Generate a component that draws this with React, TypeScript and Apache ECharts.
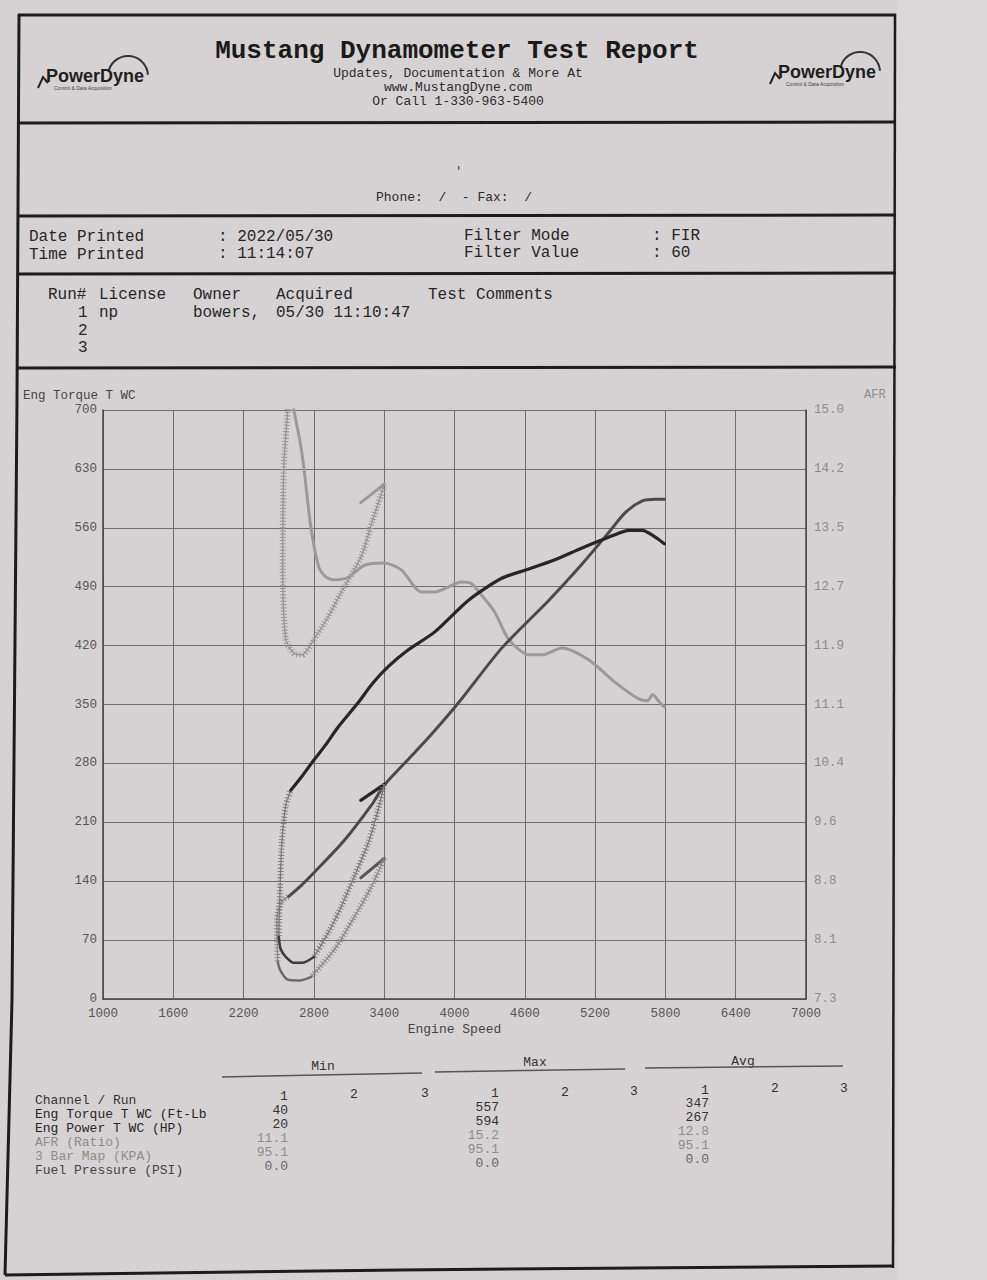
import React, { useEffect, useRef } from "react";
import * as echarts from "echarts";

// ---------- data ----------
const rpmTicks = [1000, 1600, 2200, 2800, 3400, 4000, 4600, 5200, 5800, 6400, 7000];
const torqueTicks = [0, 70, 140, 210, 280, 350, 420, 490, 560, 630, 700];
const afrTickLabels = ["7.3", "8.1", "8.8", "9.6", "10.4", "11.1", "11.9", "12.7", "13.5", "14.2", "15.0"];

// Engine torque (ft-lb) vs rpm
const torqueStart = [[3200, 236], [3400, 255]];
const torqueDecel = [[3400, 255], [3349, 225], [3263, 185], [3143, 145], [3031, 109], [2920, 78], [2800, 50]];
const torqueTurn = [[2800, 50], [2700, 43], [2629, 43], [2560, 50], [2515, 60], [2500, 75]];
const torqueRise = [[2500, 75], [2510, 126], [2526, 185], [2560, 230], [2603, 248]];
const torqueMain = [[2603, 248], [2700, 265], [2800, 284], [2900, 302], [3006, 323], [3177, 352], [3300, 375], [3434, 395], [3606, 415], [3829, 436], [4120, 474], [4403, 500], [4634, 511], [4857, 522], [5089, 536], [5320, 549], [5491, 557], [5603, 557], [5714, 549], [5791, 541]];

// Engine power (HP) vs rpm
const powerStart = [[3200, 144], [3400, 167]];
const powerDecel = [[3400, 167], [3289, 133], [3143, 97], [2971, 58], [2774, 26]];
const powerTurn = [[2774, 26], [2680, 22], [2577, 23], [2510, 35], [2491, 45]];
const powerRise = [[2491, 45], [2483, 94], [2520, 115], [2586, 122]];
const powerMain = [[2586, 122], [2700, 136], [2800, 150], [3057, 188], [3289, 230], [3400, 254], [3600, 284], [3800, 314], [4034, 352], [4403, 417], [4806, 474], [5089, 517], [5320, 555], [5457, 578], [5603, 592], [5714, 594], [5791, 594]];

// AFR (ratio) vs rpm
const afrStart = [[3200, 13.79], [3400, 14.03]];
const afrDecel = [[3400, 14.02], [3300, 13.55], [3203, 13.08], [3031, 12.61], [2920, 12.29], [2800, 12.0], [2700, 11.8], [2629, 11.82], [2560, 12.0], [2534, 12.94], [2543, 14.25], [2577, 15.0], [2590, 15.2]];
const afrMain = [[2610, 15.2], [2629, 15.0], [2680, 14.6], [2714, 14.25], [2774, 13.47], [2843, 12.94], [2900, 12.82], [2971, 12.78], [3091, 12.81], [3229, 12.97], [3400, 13.0], [3546, 12.91], [3717, 12.62], [3829, 12.62], [4060, 12.75], [4146, 12.73], [4231, 12.58], [4343, 12.36], [4463, 12.0], [4634, 11.8], [4750, 11.8], [4917, 11.89], [5149, 11.73], [5371, 11.44], [5577, 11.22], [5650, 11.2], [5689, 11.28], [5750, 11.18], [5791, 11.12]];

// Summary table
const channelNames = ["Eng Torque T WC (Ft-Lb", "Eng Power T WC (HP)", "AFR (Ratio)", "3 Bar Map (KPA)", "Fuel Pressure (PSI)"];
const minRun1 = ["40", "20", "11.1", "95.1", "0.0"];
const maxRun1 = ["557", "594", "15.2", "95.1", "0.0"];
const avgRun1 = ["347", "267", "12.8", "95.1", "0.0"];

// ---------- styles ----------
const MONO = "'Liberation Mono', 'DejaVu Sans Mono', monospace";
const INK = "#262626";
const LIGHT = "#8c8c8c";

function solid(data: number[][], color: string, width: number, yAxisIndex = 0, z = 3) {
  return {
    type: "line", data, yAxisIndex, showSymbol: false, smooth: 0.25, z,
    lineStyle: { color, width, cap: "round", join: "round" }, silent: true,
  };
}
function hatch(data: number[][], color: string, yAxisIndex = 0, z = 3) {
  return [
    { type: "line", data, yAxisIndex, showSymbol: false, smooth: 0.25, z, silent: true,
      lineStyle: { color, width: 1.3 } },
    { type: "line", data, yAxisIndex, showSymbol: false, smooth: 0.25, z, silent: true,
      lineStyle: { color, width: 6, type: [1, 2.2], cap: "butt" } },
  ];
}

function txt(text: string, x: number, y: number, size: number, fill = INK, align = "left", weight = "normal", family = MONO) {
  return {
    type: "text", x, y, silent: true,
    style: { text, fill, font: `${weight} ${size}px ${family}`, textAlign: align, textVerticalAlign: "middle" },
  };
}
function ln(x1: number, y1: number, x2: number, y2: number, w = 3, c = "#1c1c1c") {
  return { type: "line", silent: true, shape: { x1, y1, x2, y2 }, style: { stroke: c, lineWidth: w } };
}
function logo(x: number, y: number) {
  return [
    { type: "arc", silent: true, shape: { cx: x + 84, cy: y + 2, r: 20, startAngle: Math.PI * 1.08, endAngle: Math.PI * 1.98, clockwise: true }, style: { stroke: "#333", lineWidth: 2, fill: null } },
    { type: "polyline", silent: true, shape: { points: [[x - 6, y + 14], [x - 1, y + 3], [x + 4, y + 9]] }, style: { stroke: "#222", lineWidth: 2, fill: null } },
    txt("PowerDyne", x + 2, y + 2, 18, "#1e1e1e", "left", "bold", "'Liberation Sans', Arial, sans-serif"),
    { type: "text", x: x + 10, y: y + 14, silent: true, style: { text: "Control & Data Acquisition", fill: "#444", font: "5px 'Liberation Sans', sans-serif", textVerticalAlign: "middle" } },
  ];
}

export default function App() {
  const ref = useRef<HTMLDivElement>(null);
  useEffect(() => {
    document.body.style.margin = "0";
    const chart = echarts.init(ref.current!, null, { renderer: "svg" });

    const rowY = [1114, 1128, 1142, 1156, 1170];
    const rowColor = [INK, INK, LIGHT, LIGHT, "#444"];
    const valColor = ["#333", "#333", LIGHT, LIGHT, "#666"];

    const elements: any[] = [
      { type: "rect", silent: true, shape: { x: 897, y: 0, width: 90, height: 1280 }, style: { fill: "#dcd8d9" } },
      // frame
      { type: "polyline", silent: true, shape: { points: [[19, 14], [17, 400], [12, 1000], [5, 1275]] }, style: { stroke: "#1c1c1c", lineWidth: 3, fill: null } },
      ln(895, 14, 893, 1268, 2.5),
      ln(18, 15, 896, 15, 3),
      ln(18, 123, 896, 122, 3),
      ln(18, 216, 896, 215, 3),
      ln(18, 274, 896, 273, 3),
      ln(17, 368, 896, 367, 3),
      { type: "polyline", silent: true, shape: { points: [[5, 1275], [400, 1270], [893, 1266]] }, style: { stroke: "#1c1c1c", lineWidth: 3, fill: null } },
      // header
      txt("Mustang Dynamometer Test Report", 457, 51, 26, "#1a1a1a", "center", "bold"),
      txt("Updates, Documentation & More At", 458, 73, 13, "#2a2a2a", "center"),
      txt("www.MustangDyne.com", 458, 87, 13, "#2a2a2a", "center"),
      txt("Or Call 1-330-963-5400", 458, 101, 13, "#2a2a2a", "center"),
      ...logo(44, 74),
      ...logo(776, 70),
      txt("'", 455, 172, 12, "#444"),
      txt("Phone:  /  - Fax:  /", 376, 197, 13, "#2a2a2a"),
      // print info
      txt("Date Printed", 29, 237, 16),
      txt(": 2022/05/30", 218, 237, 16),
      txt("Filter Mode", 464, 236, 16),
      txt(": FIR", 652, 236, 16),
      txt("Time Printed", 29, 255, 16),
      txt(": 11:14:07", 218, 254, 16),
      txt("Filter Value", 464, 253, 16),
      txt(": 60", 652, 253, 16),
      // run info
      txt("Run#", 48, 295, 16), txt("License", 99, 295, 16), txt("Owner", 193, 295, 16),
      txt("Acquired", 276, 295, 16), txt("Test Comments", 428, 295, 16),
      txt("1", 78, 313, 16), txt("np", 99, 313, 16), txt("bowers,", 193, 313, 16), txt("05/30 11:10:47", 276, 313, 16),
      txt("2", 78, 331, 16), txt("3", 78, 348, 16),
      // chart titles
      txt("Eng Torque T WC", 23, 396, 12.5, "#444"),
      txt("AFR", 864, 395, 12, LIGHT),
      // summary table
      txt("Min", 323, 1066, 13, "#333", "center"),
      txt("Max", 535, 1062, 13, "#333", "center"),
      txt("Avg", 743, 1061, 13, "#333", "center"),
      ln(222, 1077, 422, 1073, 1.5, "#555"),
      ln(435, 1072, 625, 1069, 1.5, "#555"),
      ln(645, 1068, 843, 1066, 1.5, "#555"),
      txt("1", 284, 1096, 13, "#333", "center"), txt("2", 354, 1094, 13, "#333", "center"), txt("3", 425, 1093, 13, "#333", "center"),
      txt("1", 495, 1093, 13, "#333", "center"), txt("2", 565, 1092, 13, "#333", "center"), txt("3", 634, 1091, 13, "#333", "center"),
      txt("1", 705, 1090, 13, "#333", "center"), txt("2", 775, 1088, 13, "#333", "center"), txt("3", 844, 1088, 13, "#333", "center"),
      txt("Channel / Run", 35, 1100, 13, "#333"),
    ];
    channelNames.forEach((n, i) => {
      elements.push(txt(n, 35, rowY[i], 13, rowColor[i]));
      elements.push(txt(minRun1[i], 288, rowY[i] - 4, 13, valColor[i], "right"));
      elements.push(txt(maxRun1[i], 499, rowY[i] - 7, 13, valColor[i], "right"));
      elements.push(txt(avgRun1[i], 709, rowY[i] - 11, 13, valColor[i], "right"));
    });

    const axisLabelBase = { fontFamily: MONO, fontSize: 12.5, color: "#555" };
    const splitLine = { show: true, lineStyle: { color: "#6e6e6e", width: 1 } };

    chart.setOption({
      animation: false,
      backgroundColor: "#d6d2d3",
      grid: { left: 103, right: 181, top: 410, bottom: 281, containLabel: false },
      xAxis: {
        type: "value", min: rpmTicks[0], max: rpmTicks[rpmTicks.length - 1], interval: 600,
        name: "Engine Speed", nameLocation: "middle", nameGap: 24,
        nameTextStyle: { fontFamily: MONO, fontSize: 13, color: "#444" },
        axisLine: { show: true, lineStyle: { color: "#444", width: 1.5 } },
        axisTick: { show: false },
        axisLabel: { ...axisLabelBase, margin: 8, formatter: (v: number) => String(v) },
        splitLine,
      },
      yAxis: [
        {
          type: "value", min: torqueTicks[0], max: torqueTicks[torqueTicks.length - 1], interval: 70,
          axisLine: { show: true, lineStyle: { color: "#444", width: 1.5 } },
          axisTick: { show: false },
          axisLabel: { ...axisLabelBase, margin: 6, formatter: (v: number) => String(v) },
          splitLine,
        },
        {
          type: "value", min: 7.3, max: 15.0, interval: 0.77, position: "right",
          axisLine: { show: true, lineStyle: { color: "#444", width: 1.5 } },
          axisTick: { show: false },
          axisLabel: {
            ...axisLabelBase, color: LIGHT, margin: 8,
            formatter: (v: number) => afrTickLabels[Math.round((v - 7.3) / 0.77)] ?? v.toFixed(1),
          },
          splitLine: { show: false },
        },
      ],
      graphic: { elements },
      series: [
        // AFR
        solid(afrStart, "#9a9a9a", 3, 1, 2),
        ...hatch(afrDecel, "#959595", 1, 2),
        solid(afrMain, "#9a9a9a", 3, 1, 2),
        // Power
        solid(powerStart, "#555", 3, 0, 3),
        ...hatch(powerDecel, "#8a8a8a", 0, 3),
        solid(powerTurn, "#6a6a6a", 2.5, 0, 3),
        ...hatch(powerRise, "#8a8a8a", 0, 3),
        solid(powerMain, "#4a4a4a", 3, 0, 3),
        // Torque
        solid(torqueStart, INK, 3.2, 0, 4),
        ...hatch(torqueDecel, "#7a7a7a", 0, 4),
        solid(torqueTurn, "#3c3c3c", 2.5, 0, 4),
        ...hatch(torqueRise, "#7a7a7a", 0, 4),
        solid(torqueMain, INK, 3.2, 0, 4),
      ],
    });
    return () => chart.dispose();
  }, []);
  return <div ref={ref} style={{ width: 987, height: 1280 }} />;
}
